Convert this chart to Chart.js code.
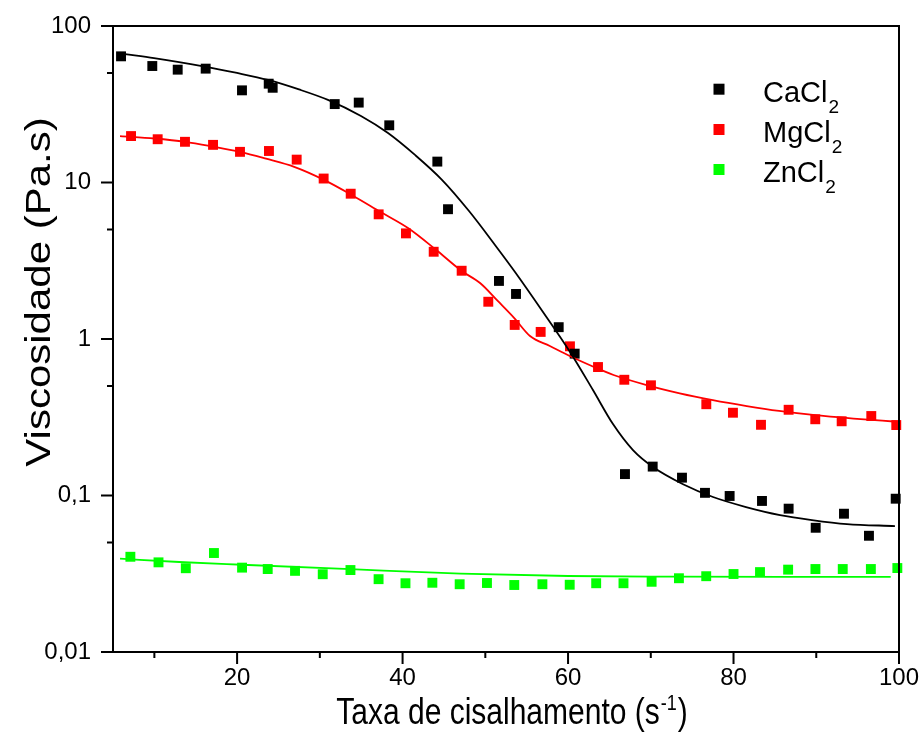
<!DOCTYPE html>
<html lang="pt">
<head>
<meta charset="UTF-8">
<title>Viscosidade x Taxa de cisalhamento</title>
<script src="https://cdn.jsdelivr.net/npm/chart.js"></script>
<style>
    html, body { margin: 0; padding: 0; background: #fff; }
    #wrap { width: 920px; height: 742px; }
</style>
</head>
<body>
<div id="wrap"><canvas id="viscChart" width="920" height="742"></canvas></div>
<script>
// Dados (taxa de cisalhamento em s-1, viscosidade em Pa.s)
const seriesLabels = ['CaCl₂', 'MgCl₂', 'ZnCl₂'];
const seriesColors = ['#000000', '#ff0000', '#00ff00'];

const caX = [5.97, 9.75, 12.82, 16.2, 20.59, 23.82, 24.3, 31.8, 34.7, 38.39, 44.2, 45.49, 51.65, 53.71, 58.87, 60.8, 66.88, 70.23, 73.77, 76.55, 79.53, 83.44, 86.66, 89.93, 93.35, 96.37, 99.6];
const caY = [64.0, 55.5, 52.6, 53.4, 38.8, 42.8, 40.3, 31.7, 32.4, 23.2, 13.6, 6.75, 2.35, 1.94, 1.19, 0.806, 0.137, 0.153, 0.130, 0.104, 0.0993, 0.0923, 0.0824, 0.0622, 0.0765, 0.0553, 0.0954];

const mgX = [7.18, 10.4, 13.7, 17.09, 20.35, 23.85, 27.2, 30.46, 33.73, 37.11, 40.41, 43.76, 47.14, 50.36, 53.55, 56.69, 60.23, 63.62, 66.8, 70.02, 76.71, 79.93, 83.32, 86.66, 89.88, 93.07, 96.65, 99.67];
const mgY = [19.8, 18.9, 18.2, 17.4, 15.7, 15.9, 14.0, 10.6, 8.48, 6.26, 4.73, 3.61, 2.73, 1.73, 1.23, 1.11, 0.898, 0.662, 0.549, 0.506, 0.383, 0.338, 0.283, 0.353, 0.307, 0.298, 0.322, 0.282];

const znX = [7.1, 10.5, 13.8, 17.2, 20.6, 23.7, 27.0, 30.35, 33.7, 37.1, 40.35, 43.6, 46.9, 50.2, 53.5, 56.9, 60.2, 63.4, 66.7, 70.1, 73.4, 76.7, 80.0, 83.2, 86.6, 89.9, 93.2, 96.6, 99.8];
const znY = [0.0406, 0.0374, 0.0343, 0.0429, 0.0346, 0.0339, 0.0330, 0.0314, 0.0334, 0.0292, 0.0275, 0.0277, 0.0271, 0.0276, 0.0268, 0.0271, 0.0269, 0.0275, 0.0275, 0.0281, 0.0296, 0.0305, 0.0315, 0.0324, 0.0336, 0.0339, 0.0339, 0.0339, 0.0344];

// curvas de ajuste
const caFitX = [6.45, 9.96, 15.76, 19.99, 23.73, 27.48, 30.98, 34.97, 38.24, 41.5, 44.76, 48.03, 51.17, 53.59, 56.97, 60.24, 63.01, 65.43, 67.85, 70.27, 73.9, 77.52, 81.51, 85.62, 89.48, 93.71, 99.51];
const caFitY = [66.2, 62.4, 55.5, 50.1, 45.2, 39.3, 33.7, 26.6, 20.7, 15.0, 10.4, 6.57, 3.99, 2.68, 1.488, 0.826, 0.472, 0.286, 0.195, 0.152, 0.118, 0.0978, 0.0844, 0.075, 0.0697, 0.0657, 0.0638];

const mgFitX = [5.85, 10, 13.7, 17, 20.35, 23.5, 26.9, 30.5, 33.9, 37.3, 40.7, 44, 47.1, 49.4, 51.5, 53.5, 55.4, 57.8, 60.2, 63, 65.5, 69.5, 73.5, 77.5, 81.6, 85.5, 89.6, 94.5, 99.7];
const mgFitY = [19.8, 19.1, 18.2, 17.0, 15.7, 14.2, 12.6, 10.4, 8.3, 6.5, 5.1, 3.73, 2.73, 2.27, 1.75, 1.36, 1.045, 0.902, 0.778, 0.667, 0.589, 0.508, 0.45, 0.407, 0.373, 0.347, 0.327, 0.31, 0.296];

const znFitX = [5.85, 13, 20.6, 33.7, 47, 60, 73, 86, 99];
const znFitY = [0.0395, 0.0376, 0.0361, 0.0338, 0.0317, 0.0306, 0.0303, 0.0302, 0.0302];

// eixos
const xMajorTicks = [20, 40, 60, 80, 100];
const xMinorTicks = [10, 30, 50, 70, 90];
const yMajorTicks = [0.01, 0.1, 1, 10, 100];
const yMinorTicks = [0.05, 0.5, 5, 50];
const yTickLabels = ['0,01', '0,1', '1', '10', '100'];
const xTitle = 'Taxa de cisalhamento (s';
const xTitleSup = '-1';
const yTitle = 'Viscosidade (Pa.s)';

const FONT = '"Liberation Sans", Arial, Helvetica, sans-serif';

function toPoints(xs, ys) {
    return xs.map((v, i) => ({ x: v, y: ys[i] }));
}

function markerSet(label, xs, ys, color) {
    return {
        label: label,
        data: toPoints(xs, ys),
        pointStyle: 'rect',
        pointRadius: 7,
        pointHoverRadius: 7,
        pointBackgroundColor: color,
        pointBorderColor: color,
        pointBorderWidth: 0,
        showLine: false,
        clip: false,
        order: 2
    };
}

function fitSet(xs, ys, color) {
    return {
        label: 'fit',
        data: toPoints(xs, ys),
        showLine: true,
        borderColor: color,
        borderWidth: 1.8,
        pointRadius: 0,
        cubicInterpolationMode: 'monotone',
        order: 1
    };
}

// moldura, marcas de escala, títulos e legenda
const decorPlugin = {
    id: 'decor',
    afterDraw(chart) {
        const { ctx, chartArea: a, scales: { x, y } } = chart;
        ctx.save();
        ctx.strokeStyle = '#000';
        ctx.lineWidth = 2;
        ctx.strokeRect(a.left, a.top, a.right - a.left, a.bottom - a.top);

        ctx.beginPath();
        xMajorTicks.forEach(v => { const p = x.getPixelForValue(v); ctx.moveTo(p, a.bottom); ctx.lineTo(p, a.bottom + 12); });
        xMinorTicks.forEach(v => { const p = x.getPixelForValue(v); ctx.moveTo(p, a.bottom); ctx.lineTo(p, a.bottom + 6); });
        yMajorTicks.forEach(v => { const p = y.getPixelForValue(v); ctx.moveTo(a.left, p); ctx.lineTo(a.left - 12, p); });
        yMinorTicks.forEach(v => { const p = y.getPixelForValue(v); ctx.moveTo(a.left, p); ctx.lineTo(a.left - 6, p); });
        ctx.stroke();

        ctx.fillStyle = '#000';
        ctx.textBaseline = 'alphabetic';

        // título do eixo x com expoente (fonte um pouco alongada, como no original)
        ctx.save();
        ctx.translate(0, 724);
        ctx.scale(1, 1.2);
        ctx.font = '30px ' + FONT;
        const wMain = ctx.measureText(xTitle).width;
        ctx.font = '18px ' + FONT;
        const wSup = ctx.measureText(xTitleSup).width;
        ctx.font = '30px ' + FONT;
        const wEnd = ctx.measureText(')').width;
        let tx = 512 - (wMain + wSup + wEnd + 2) / 2;
        ctx.textAlign = 'left';
        ctx.fillText(xTitle, tx, 0);
        tx += wMain + 1;
        ctx.font = '18px ' + FONT;
        ctx.fillText(xTitleSup, tx, -12);
        tx += wSup + 1;
        ctx.font = '30px ' + FONT;
        ctx.fillText(')', tx, 0);
        ctx.restore();

        // título do eixo y
        ctx.save();
        ctx.translate(50, 292);
        ctx.rotate(-Math.PI / 2);
        ctx.scale(1.2, 1);
        ctx.textAlign = 'center';
        ctx.font = '35px ' + FONT;
        ctx.fillText(yTitle, 0, 0);
        ctx.restore();

        // legenda
        const legendBase = [101.7, 142, 182];
        seriesLabels.forEach((lab, i) => {
            const base = lab.replace('₂', '');
            const ly = legendBase[i];
            ctx.fillStyle = seriesColors[i];
            ctx.fillRect(713.5, ly - 18, 11, 11);
            ctx.fillStyle = '#000';
            ctx.textAlign = 'left';
            ctx.font = '29px ' + FONT;
            ctx.fillText(base, 763, ly);
            const bw = ctx.measureText(base).width;
            ctx.font = '19px ' + FONT;
            ctx.fillText('2', 763 + bw + 1, ly + 11);
        });
        ctx.restore();
    }
};

const chart = new Chart(document.getElementById('viscChart'), {
    type: 'scatter',
    data: {
        datasets: [
            markerSet(seriesLabels[0], caX, caY, seriesColors[0]),
            markerSet(seriesLabels[1], mgX, mgY, seriesColors[1]),
            markerSet(seriesLabels[2], znX, znY, seriesColors[2]),
            fitSet(caFitX, caFitY, seriesColors[0]),
            fitSet(mgFitX, mgFitY, seriesColors[1]),
            fitSet(znFitX, znFitY, seriesColors[2])
        ]
    },
    options: {
        responsive: false,
        animation: false,
        devicePixelRatio: 1,
        layout: { padding: { left: 0, right: 21, top: 26, bottom: 0 } },
        plugins: {
            legend: { display: false },
            tooltip: { enabled: false }
        },
        scales: {
            x: {
                type: 'linear',
                min: 5,
                max: 100,
                grid: { display: false, drawTicks: false },
                border: { display: false },
                afterBuildTicks: s => { s.ticks = xMajorTicks.map(v => ({ value: v })); },
                afterFit: s => { s.height = 90; s.paddingLeft = 0; s.paddingRight = 0; },
                ticks: {
                    padding: 12,
                    color: '#000',
                    font: { family: FONT, size: 24 },
                    maxRotation: 0
                }
            },
            y: {
                type: 'logarithmic',
                min: 0.01,
                max: 100,
                grid: { display: false, drawTicks: false },
                border: { display: false },
                afterBuildTicks: s => { s.ticks = yMajorTicks.map(v => ({ value: v })); },
                afterFit: s => { s.width = 113; s.paddingTop = 0; s.paddingBottom = 0; },
                ticks: {
                    padding: 22,
                    color: '#000',
                    font: { family: FONT, size: 24 },
                    callback: (v) => yTickLabels[yMajorTicks.indexOf(v)]
                }
            }
        }
    },
    plugins: [decorPlugin]
});
</script>
</body>
</html>
